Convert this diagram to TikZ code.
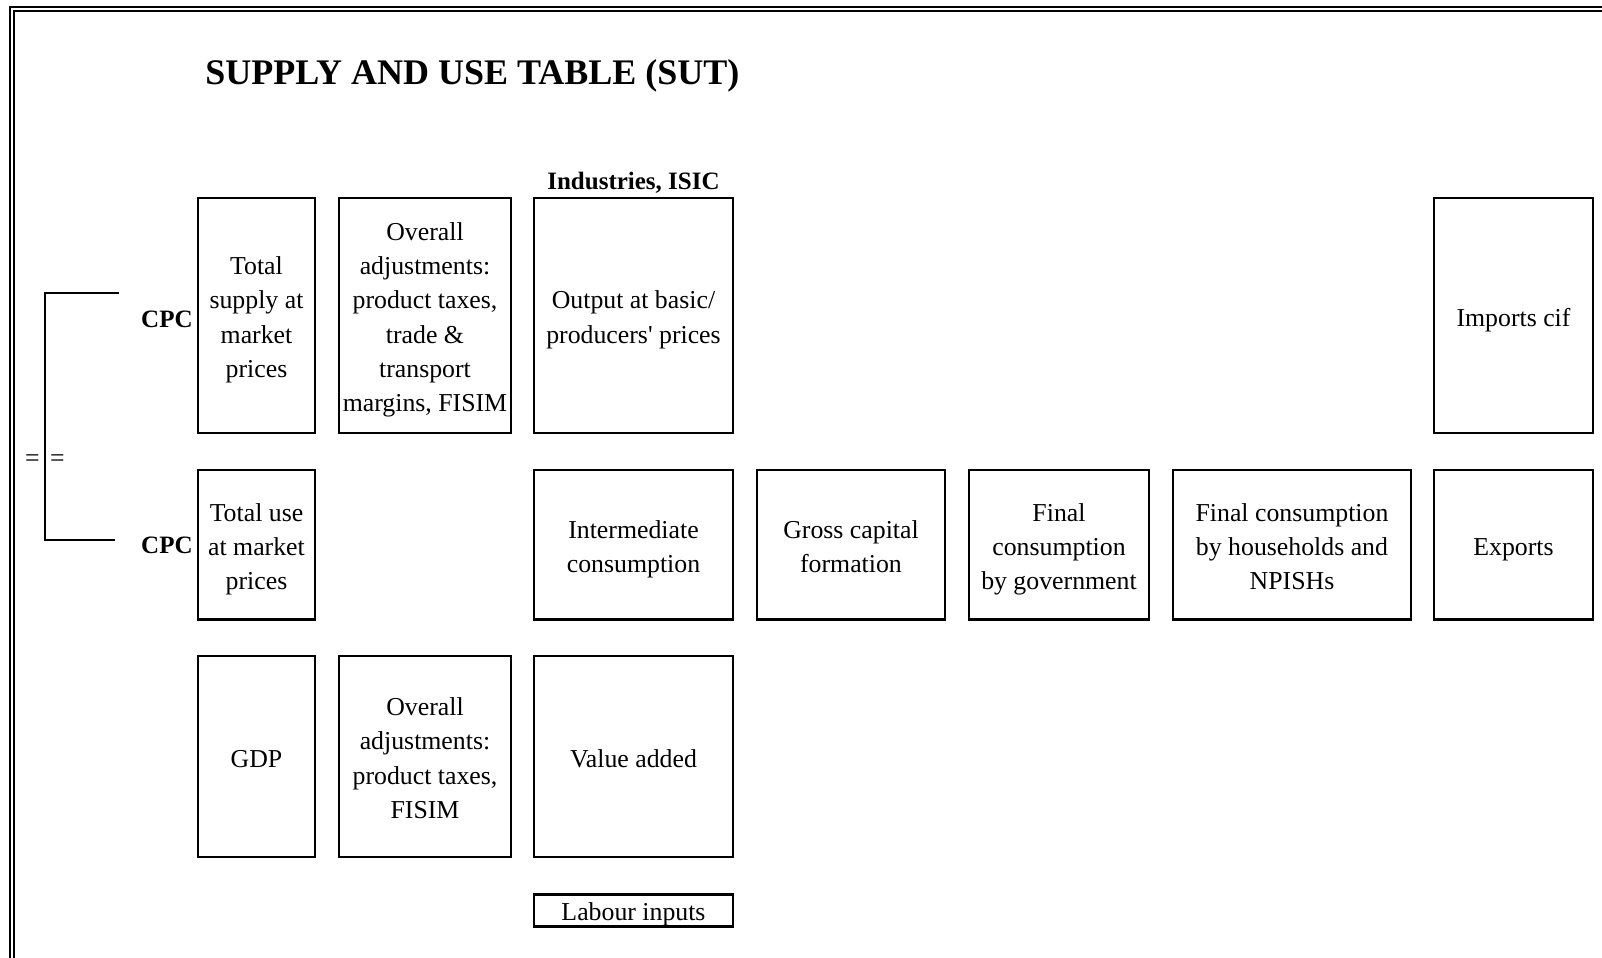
\documentclass[tikz,border=0pt]{standalone}
\usepackage{fontspec}
\setmainfont{Liberation Serif}[Ligatures=TeXOff]
% struts that fix the first-line height and last-line depth of a cell text
\newcommand\tl{\rule{0pt}{15.05pt}}
\newcommand\tlslim{\rule{0pt}{11.5pt}}
\begin{document}
\begin{tikzpicture}[x=0.5pt,y=-0.5pt,
  cell/.style={draw, line width=1.1pt, align=center, inner sep=0pt,
    font=\fontsize{12.9}{17.1}\selectfont,
    execute at end node={\rule[-4.55pt]{0pt}{0pt}}},
  slim/.style={execute at end node={\rule[-3.5pt]{0pt}{0pt}}},
  lbl/.style={inner sep=0pt, font=\fontsize{12.5}{15}\selectfont\bfseries},
  eqsign/.style={inner sep=0pt, font=\fontsize{12.9}{15}\selectfont},
  frameline/.style={line width=1pt},
  bracketline/.style={line width=1pt},
  colA/.style={minimum width=58.5pt},
  colB/.style={minimum width=86pt},
  colC/.style={minimum width=99.5pt},
  colD/.style={minimum width=94pt},
  colE/.style={minimum width=90pt},
  colF/.style={minimum width=119pt},
  colG/.style={minimum width=79.5pt},
  rowA/.style={minimum height=117.5pt},
  rowB/.style={minimum height=74.75pt},
  rowC/.style={minimum height=100.5pt},
  rowD/.style={minimum height=15.5pt}]
\useasboundingbox (0,0) rectangle (1602,958);

% double frame along the top and left edges
\draw[frameline] (1602,6.8) -- (10,6.8) -- (10,958);
\draw[frameline] (1602,10.9) -- (14.2,10.9) -- (14.2,958);

% title and column heading
\node[inner sep=0pt, anchor=base west, font=\fontsize{18}{20}\selectfont\bfseries]
  (title) at (205,84) {SUPPLY AND USE TABLE (SUT)};
\node[lbl, anchor=base] (ind) at (633.5,189) {Industries, ISIC};

% supply rows
\node[cell,colA,rowA] (tsup) at (256.5,315.5) {\tl Total\\supply at\\market\\prices};
\node[cell,colB,rowA] (adjA) at (425,315.5) {\tl Overall\\adjustments:\\product taxes,\\trade \&\\transport\\margins, FISIM};
\node[cell,colC,rowA] (outp) at (633.5,315.5) {\tl Output at basic/\\producers' prices};
\node[cell,colG,rowA] (imp) at (1513.5,315.5) {\tl Imports cif};

% use rows
\node[cell,colA,rowB] (tuse) at (256.5,544.75) {\tl Total use\\at market\\prices};
\node[cell,colC,rowB] (inter) at (633.5,544.75) {\tl Intermediate\\consumption};
\node[cell,colD,rowB] (gcf) at (851,544.75) {\tl Gross capital\\formation};
\node[cell,colE,rowB] (gov) at (1059,544.75) {\tl Final\\consumption\\by government};
\node[cell,colF,rowB] (hh) at (1292,544.75) {\tl Final consumption\\by households and\\NPISHs};
\node[cell,colG,rowB] (expo) at (1513.5,544.75) {\tl Exports};

% value added rows
\node[cell,colA,rowC] (gdp) at (256.5,756.5) {\tl GDP};
\node[cell,colB,rowC] (adjB) at (425,756.5) {\tl Overall\\adjustments:\\product taxes,\\FISIM};
\node[cell,colC,rowC] (va) at (633.5,756.5) {\tl Value added};
\node[cell,slim,colC,rowD] (lab) at (633.5,910.5) {\tlslim\raisebox{-1.5pt}[0pt][0pt]{Labour inputs}};

% row labels
\node[lbl, anchor=base east] (cpcA) at (193,327) {CPC};
\node[lbl, anchor=base east] (cpcB) at (193,553) {CPC};

% bracket joining the two CPC rows
\coordinate (brA) at (119,292.5);
\coordinate (brB) at (115,539.5);
\draw[bracketline] (brA) -- (45.2,292.5) |- (brB);
\node[eqsign, anchor=base] (eqA) at (32.5,466.5) {=};
\node[eqsign, anchor=base] (eqB) at (57.5,466.5) {=};
\end{tikzpicture}
\end{document}
